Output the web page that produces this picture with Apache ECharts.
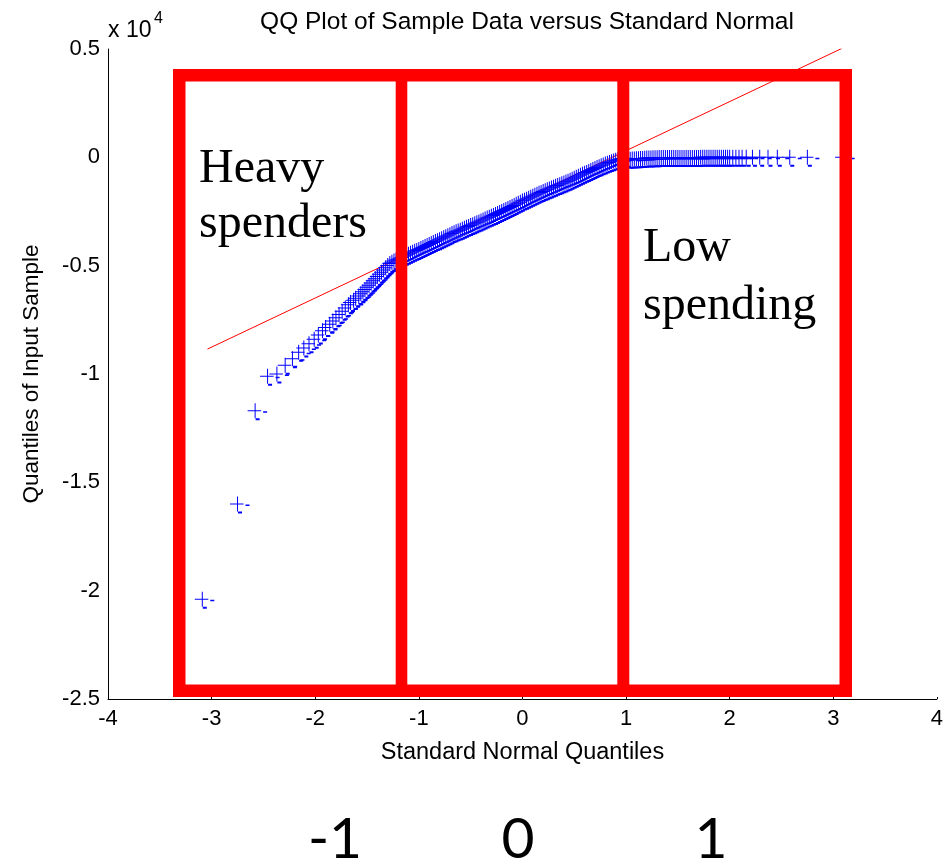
<!DOCTYPE html>
<html>
<head>
<meta charset="utf-8">
<script src="https://cdn.jsdelivr.net/npm/echarts@6/dist/echarts.min.js"></script>
<style>html,body{margin:0;padding:0;background:#fff;}#c{width:946px;height:865px;}</style>
</head>
<body>
<div id="c"></div>
<script>
// Theoretical (standard normal) quantiles
const qx = [
  -3.09, -2.75, -2.58, -2.46, -2.37, -2.29, -2.22, -2.16, -2.11, -2.06, -2.01, -1.97, -1.93, -1.90, -1.86,
  -1.83, -1.80, -1.77, -1.74, -1.71, -1.68, -1.66, -1.63, -1.61, -1.58, -1.56, -1.54, -1.52, -1.50, -1.48,
  -1.46, -1.44, -1.42, -1.40, -1.38, -1.36, -1.34, -1.32, -1.30, -1.28, -1.26, -1.24, -1.22, -1.20,
  -1.18, -1.16, -1.14, -1.12, -1.10, -1.08, -1.06, -1.04, -1.02, -1.00,
  -0.98, -0.96, -0.94, -0.92, -0.90, -0.88, -0.86, -0.84, -0.82, -0.80,
  -0.78, -0.76, -0.74, -0.72, -0.70, -0.68, -0.66, -0.64, -0.62, -0.60,
  -0.58, -0.56, -0.54, -0.52, -0.50, -0.48, -0.46, -0.44, -0.42, -0.40,
  -0.38, -0.36, -0.34, -0.32, -0.30, -0.28, -0.26, -0.24, -0.22, -0.20,
  -0.18, -0.16, -0.14, -0.12, -0.10, -0.08, -0.06, -0.04, -0.02, 0.00,
  0.02, 0.04, 0.06, 0.08, 0.10, 0.12, 0.14, 0.16, 0.18, 0.20,
  0.22, 0.24, 0.26, 0.28, 0.30, 0.32, 0.34, 0.36, 0.38, 0.40,
  0.42, 0.44, 0.46, 0.48, 0.50, 0.52, 0.54, 0.56, 0.58, 0.60,
  0.62, 0.64, 0.66, 0.68, 0.70, 0.72, 0.74, 0.76, 0.78, 0.80,
  0.82, 0.84, 0.86, 0.88, 0.90, 0.92, 0.94, 0.96, 0.98, 1.00,
  1.02, 1.04, 1.06, 1.08, 1.10, 1.12, 1.14, 1.16, 1.18, 1.20,
  1.22, 1.24, 1.26, 1.28, 1.30, 1.32, 1.34, 1.36, 1.38, 1.40,
  1.42, 1.44, 1.46, 1.48, 1.50, 1.52, 1.54, 1.56, 1.58, 1.60,
  1.62, 1.64, 1.66, 1.68, 1.70, 1.72, 1.74, 1.76, 1.78, 1.80,
  1.82, 1.84, 1.86, 1.88, 1.90, 1.92, 1.94, 1.96, 1.98, 2.00,
  2.03, 2.06, 2.09, 2.12, 2.16, 2.22, 2.29, 2.37, 2.46, 2.58, 2.75, 3.09
];
// Sample quantiles (raw values, axis shows x 10^4)
const qy = [
  -20400, -16000, -11700, -10100, -10000, -9600, -9300, -9000, -8800, -8600, -8400, -8200, -8000, -7850, -7700,
  -7550, -7400, -7250, -7100, -6950, -6800, -6700, -6600, -6500, -6400, -6300, -6200, -6100, -6000, -5900,
  -5800, -5700, -5600, -5500, -5400, -5300, -5200, -5100, -4990, -4900, -4840, -4790, -4740, -4700,
  -4660, -4620, -4570, -4520, -4475, -4430, -4385, -4340, -4295, -4250,
  -4205, -4160, -4115, -4070, -4025, -3980, -3935, -3890, -3845, -3800,
  -3755, -3710, -3665, -3620, -3570, -3520, -3480, -3440, -3400, -3360,
  -3315, -3270, -3230, -3190, -3150, -3110, -3065, -3020, -2980, -2940,
  -2895, -2850, -2805, -2760, -2720, -2680, -2635, -2590, -2545, -2500,
  -2455, -2410, -2365, -2320, -2270, -2220, -2170, -2120, -2070, -2020,
  -1975, -1930, -1885, -1840, -1795, -1750, -1705, -1660, -1620, -1580,
  -1540, -1500, -1460, -1420, -1380, -1340, -1300, -1260, -1220, -1180,
  -1140, -1100, -1055, -1010, -965, -920, -875, -830, -785, -740,
  -695, -650, -605, -560, -515, -470, -430, -390, -350, -310,
  -275, -240, -205, -170, -140, -110, -90, -70, -55, -40,
  -90, -85, -80, -75, -70, -60, -55, -50, -40, -35,
  -30, -25, -20, -20, -15, -10, -10, -10, -10, -10,
  -10, -10, -10, -10, -10, -5, -5, -5, -5, -5,
  -5, -5, -5, -5, -5, 0, 0, 0, 0, 0,
  0, 0, 0, 0, 0, 0, 0, 0, 0, 0,
  0, 0, 0, 0, 0, 0, 0, 0, 0, 0, 0, 0
];
// Reference line endpoints
const refX = [-3.04, 3.08];
const refY = [-8850, 5020];
// Axis ticks
const xTicks = [-4, -3, -2, -1, 0, 1, 2, 3, 4];
const yTicks = [0.5, 0, -0.5, -1, -1.5, -2, -2.5];
const bottomLabels = ['-1', '0', '1'];

const points = qx.map((x, i) => [x, qy[i]]);
const refLine = refX.map((x, i) => [x, refY[i]]);

const chart = echarts.init(document.getElementById('c'), null, {renderer: 'canvas'});
const SANS = '"Liberation Sans", Arial, sans-serif';
const SERIF = '"Liberation Serif", "Times New Roman", serif';
const CAL = 'Lato, "Open Sans", sans-serif';
// MATLAB-style '+' marker with its small rendering dashes
const PLUS = 'path://M0,7H13.5V8H0ZM7,0H8V15H7ZM15.5,8H19.5V9.5H15.5ZM8,15H12V17H8Z';

function txt(t, x, y, font, align) {
  return {type: 'text', x: x, y: y, z: 101,
    style: {text: t, font: font, fill: '#000', textAlign: align, textVerticalAlign: 'middle', align: align, verticalAlign: 'middle'}};
}

chart.setOption({
  animation: false,
  backgroundColor: '#ffffff',
  title: {
    text: 'QQ Plot of Sample Data versus Standard Normal',
    left: 522, top: 5, textAlign: 'center',
    textStyle: {fontFamily: SANS, fontSize: 24.5, fontWeight: 'normal', color: '#000'}
  },
  grid: {left: 108, right: 9, top: 49, bottom: 166, containLabel: false},
  xAxis: {
    type: 'value', min: xTicks[0], max: xTicks[xTicks.length - 1], interval: 1,
    name: 'Standard Normal Quantiles', nameLocation: 'middle', nameGap: 42,
    nameTextStyle: {fontFamily: SANS, fontSize: 23.5, color: '#000'},
    axisLine: {show: true, onZero: false, lineStyle: {color: '#000', width: 1}},
    axisTick: {show: true, inside: true, length: 2, lineStyle: {color: '#000'}},
    axisLabel: {fontFamily: SANS, fontSize: 22, color: '#000', margin: 9},
    splitLine: {show: false}
  },
  yAxis: {
    type: 'value', min: yTicks[yTicks.length - 1] * 10000, max: yTicks[0] * 10000, interval: 5000,
    name: 'Quantiles of Input Sample', nameLocation: 'middle', nameGap: 65, nameRotate: 90,
    nameTextStyle: {fontFamily: SANS, fontSize: 22.5, color: '#000'},
    axisLine: {show: true, onZero: false, lineStyle: {color: '#000', width: 1}},
    axisTick: {show: false},
    axisLabel: {fontFamily: SANS, fontSize: 22, color: '#000', margin: 8,
      formatter: v => String(Math.round(v / 1000) / 10)},
    splitLine: {show: false}
  },
  series: [
    {
      type: 'line', data: refLine, showSymbol: false, symbol: 'none', z: 1,
      lineStyle: {color: '#ff0000', width: 1}, silent: true
    },
    {
      type: 'scatter', data: points, z: 2,
      symbol: PLUS, symbolSize: [19.5, 17], symbolOffset: [2.25, 1],
      itemStyle: {color: '#0000ff', opacity: 1}
    }
  ],
  graphic: [
    txt('x 10', 108, 31, '23px ' + SANS, 'left'),
    txt('4', 154, 19, '16px ' + SANS, 'left'),
    {type: 'rect', z: 100, shape: {x: 179.25, y: 75.25, width: 666.5, height: 615.5},
      style: {fill: null, stroke: '#ff0000', lineWidth: 12.5}},
    {type: 'rect', z: 100, shape: {x: 395.7, y: 69, width: 11.6, height: 628}, style: {fill: '#ff0000'}},
    {type: 'rect', z: 100, shape: {x: 617.3, y: 69, width: 12, height: 628}, style: {fill: '#ff0000'}},
    txt('Heavy', 199, 169, '48px ' + SERIF, 'left'),
    txt('spenders', 199, 224, '48px ' + SERIF, 'left'),
    txt('Low', 643, 248, '48px ' + SERIF, 'left'),
    txt('spending', 643, 306, '48px ' + SERIF, 'left'),
    txt(bottomLabels[0], 335, 840, '57px ' + CAL, 'center'),
    txt(bottomLabels[1], 518, 840, '57px ' + CAL, 'center'),
    txt(bottomLabels[2], 711, 840, '57px ' + CAL, 'center')
  ]
});
</script>
</body>
</html>
